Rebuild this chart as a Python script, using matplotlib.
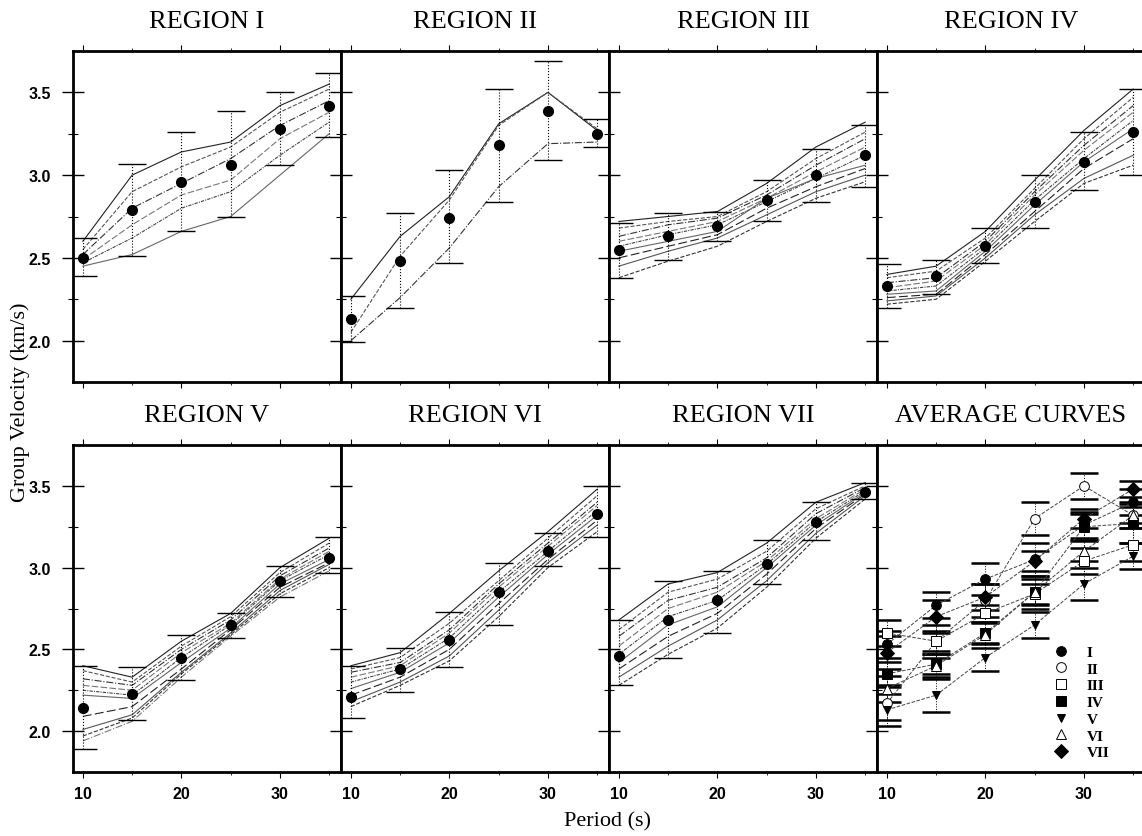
import numpy as np
import matplotlib.pyplot as plt

plt.rcParams['font.family'] = ['Liberation Serif', 'DejaVu Serif']

periods = [10, 15, 20, 25, 30, 35]

# mean curves with error limits
mean_I = [2.50, 2.79, 2.96, 3.06, 3.28, 3.42]
lo_I = [2.39, 2.51, 2.66, 2.75, 3.06, 3.23]
hi_I = [2.62, 3.07, 3.26, 3.39, 3.50, 3.62]

mean_II = [2.13, 2.48, 2.74, 3.18, 3.39, 3.25]
lo_II = [1.99, 2.20, 2.47, 2.84, 3.09, 3.17]
hi_II = [2.27, 2.77, 3.03, 3.52, 3.69, 3.34]

mean_III = [2.55, 2.63, 2.69, 2.85, 3.00, 3.12]
lo_III = [2.38, 2.49, 2.60, 2.72, 2.84, 2.93]
hi_III = [2.71, 2.77, 2.78, 2.97, 3.16, 3.30]

mean_IV = [2.33, 2.39, 2.57, 2.84, 3.08, 3.26]
lo_IV = [2.20, 2.28, 2.47, 2.68, 2.91, 3.00]
hi_IV = [2.46, 2.49, 2.68, 3.00, 3.26, 3.52]

mean_V = [2.14, 2.23, 2.45, 2.65, 2.92, 3.06]
lo_V = [1.89, 2.07, 2.31, 2.57, 2.82, 2.97]
hi_V = [2.40, 2.39, 2.59, 2.72, 3.01, 3.19]

mean_VI = [2.21, 2.38, 2.56, 2.85, 3.10, 3.33]
lo_VI = [2.08, 2.24, 2.39, 2.65, 3.01, 3.19]
hi_VI = [2.40, 2.51, 2.73, 3.03, 3.21, 3.50]

mean_VII = [2.46, 2.68, 2.80, 3.02, 3.28, 3.46]
lo_VII = [2.28, 2.45, 2.60, 2.90, 3.17, 3.42]
hi_VII = [2.68, 2.92, 2.98, 3.17, 3.40, 3.52]

# individual dispersion curves per region
curves_I = [
    [2.60, 3.00, 3.14, 3.20, 3.42, 3.55],
    [2.55, 2.90, 3.05, 3.17, 3.38, 3.52],
    [2.52, 2.80, 2.95, 3.10, 3.30, 3.45],
    [2.49, 2.70, 2.88, 2.97, 3.22, 3.38],
    [2.47, 2.62, 2.80, 2.90, 3.12, 3.32],
    [2.45, 2.52, 2.66, 2.75, 3.00, 3.25],
]
curves_II = [
    [2.25, 2.63, 2.87, 3.31, 3.50, 3.27],
    [2.05, 2.51, 2.85, 3.30, 3.50, 3.28],
    [2.00, 2.26, 2.56, 2.93, 3.19, 3.20],
]
curves_III = [
    [2.72, 2.75, 2.78, 2.95, 3.17, 3.32],
    [2.68, 2.72, 2.75, 2.90, 3.10, 3.26],
    [2.63, 2.70, 2.74, 2.88, 3.06, 3.22],
    [2.60, 2.66, 2.72, 2.86, 3.02, 3.17],
    [2.57, 2.64, 2.70, 2.84, 2.98, 3.12],
    [2.54, 2.60, 2.66, 2.86, 2.98, 3.06],
    [2.50, 2.57, 2.64, 2.80, 2.93, 3.04],
    [2.45, 2.54, 2.62, 2.76, 2.90, 3.00],
    [2.38, 2.48, 2.57, 2.72, 2.86, 2.96],
]
curves_IV = [
    [2.40, 2.45, 2.66, 2.97, 3.27, 3.52],
    [2.38, 2.42, 2.62, 2.92, 3.22, 3.47],
    [2.35, 2.38, 2.60, 2.90, 3.18, 3.42],
    [2.32, 2.36, 2.58, 2.88, 3.15, 3.38],
    [2.30, 2.33, 2.56, 2.85, 3.10, 3.33],
    [2.28, 2.30, 2.54, 2.82, 3.08, 3.28],
    [2.26, 2.28, 2.52, 2.78, 3.04, 3.22],
    [2.24, 2.27, 2.50, 2.76, 2.98, 3.12],
    [2.22, 2.25, 2.48, 2.72, 2.95, 3.06],
]
curves_V = [
    [2.40, 2.33, 2.55, 2.72, 3.00, 3.18],
    [2.37, 2.30, 2.52, 2.70, 2.97, 3.15],
    [2.32, 2.28, 2.50, 2.68, 2.95, 3.12],
    [2.28, 2.25, 2.48, 2.66, 2.93, 3.10],
    [2.25, 2.22, 2.45, 2.65, 2.92, 3.08],
    [2.22, 2.20, 2.42, 2.63, 2.90, 3.05],
    [2.09, 2.15, 2.38, 2.62, 2.88, 3.03],
    [2.01, 2.10, 2.36, 2.60, 2.86, 3.02],
    [1.97, 2.08, 2.35, 2.59, 2.84, 3.00],
    [1.94, 2.06, 2.33, 2.58, 2.82, 2.98],
]
curves_VI = [
    [2.40, 2.48, 2.72, 2.98, 3.22, 3.48],
    [2.38, 2.45, 2.66, 2.92, 3.18, 3.44],
    [2.36, 2.42, 2.62, 2.90, 3.15, 3.40],
    [2.33, 2.40, 2.60, 2.88, 3.13, 3.38],
    [2.30, 2.38, 2.57, 2.85, 3.10, 3.35],
    [2.26, 2.36, 2.54, 2.82, 3.08, 3.32],
    [2.22, 2.33, 2.50, 2.78, 3.05, 3.29],
    [2.18, 2.30, 2.46, 2.74, 3.03, 3.26],
    [2.15, 2.28, 2.43, 2.70, 3.00, 3.22],
]
curves_VII = [
    [2.68, 2.90, 2.97, 3.15, 3.40, 3.52],
    [2.62, 2.85, 2.93, 3.10, 3.36, 3.50],
    [2.58, 2.80, 2.88, 3.06, 3.33, 3.49],
    [2.52, 2.75, 2.85, 3.04, 3.30, 3.48],
    [2.47, 2.70, 2.80, 3.02, 3.28, 3.47],
    [2.42, 2.65, 2.76, 3.00, 3.26, 3.46],
    [2.38, 2.58, 2.72, 2.96, 3.24, 3.45],
    [2.33, 2.52, 2.68, 2.92, 3.21, 3.44],
    [2.28, 2.47, 2.63, 2.88, 3.18, 3.42],
]

# average curves panel, with half-widths of its error bars
avg_I = [2.53, 2.77, 2.93, 3.05, 3.26, 3.40]
avg_II = [2.17, 2.55, 2.80, 3.30, 3.50, 3.32]
avg_III = [2.60, 2.55, 2.72, 2.84, 3.04, 3.14]
avg_IV = [2.35, 2.41, 2.60, 2.85, 3.25, 3.27]
avg_V = [2.13, 2.22, 2.45, 2.65, 2.90, 3.07]
avg_VI = [2.26, 2.40, 2.59, 2.85, 3.10, 3.32]
avg_VII = [2.48, 2.70, 2.82, 3.04, 3.30, 3.48]

err_I = [0.08, 0.08, 0.10, 0.10, 0.08, 0.08]
err_II = [0.10, 0.10, 0.10, 0.10, 0.08, 0.05]
err_III = [0.08, 0.06, 0.05, 0.06, 0.08, 0.10]
err_IV = [0.07, 0.06, 0.06, 0.08, 0.08, 0.12]
err_V = [0.10, 0.10, 0.08, 0.08, 0.10, 0.08]
err_VI = [0.08, 0.07, 0.08, 0.10, 0.06, 0.08]
err_VII = [0.10, 0.10, 0.08, 0.06, 0.06, 0.05]

names = ['I', 'II', 'III', 'IV', 'V', 'VI', 'VII']
titles = ['REGION I', 'REGION II', 'REGION III', 'REGION IV',
          'REGION V', 'REGION VI', 'REGION VII', 'AVERAGE CURVES']
means = [mean_I, mean_II, mean_III, mean_IV, mean_V, mean_VI, mean_VII]
los = [lo_I, lo_II, lo_III, lo_IV, lo_V, lo_VI, lo_VII]
his = [hi_I, hi_II, hi_III, hi_IV, hi_V, hi_VI, hi_VII]
curves = [curves_I, curves_II, curves_III, curves_IV, curves_V, curves_VI, curves_VII]
avgs = [avg_I, avg_II, avg_III, avg_IV, avg_V, avg_VI, avg_VII]
errs = [err_I, err_II, err_III, err_IV, err_V, err_VI, err_VII]
avg_markers = ['o', 'o', 's', 's', 'v', '^', 'D']
avg_fill = ['k', 'white', 'white', 'k', 'k', 'white', 'k']

W, H = 1142, 837
fig = plt.figure(figsize=(W / 100, H / 100), dpi=100)

col_x = [73, 341, 609, 877]
col_w = 268
rows = [(52, 383), (446, 773)]

styles = ['-', '--', '-.', (0, (6, 2)), (0, (3, 1, 1, 1)), '-', (0, (8, 3))]
greys = ['#222222', '#555555', '#333333', '#777777', '#444444', '#666666']


def style_axis(ax, col):
    ax.set_xlim(9.0, 36.2)
    ax.set_ylim(1.75, 3.75)
    ax.set_yticks([2.0, 2.5, 3.0, 3.5])
    ax.set_yticks([2.25, 2.75, 3.25], minor=True)
    ax.set_xticks([10, 20, 30])
    ax.set_xticks([15, 25, 35], minor=True)
    ax.tick_params(axis='y', which='major', direction='inout', length=16, width=1.0,
                   left=True, right=False, pad=8)
    ax.tick_params(axis='y', which='minor', direction='inout', length=7, width=0.8)
    ax.tick_params(axis='x', which='major', direction='out', length=4, width=0.8,
                   top=True, bottom=True, pad=6)
    ax.tick_params(axis='x', which='minor', direction='out', length=2, width=0.6,
                   top=True, bottom=True)
    for lab in ax.get_xticklabels() + ax.get_yticklabels():
        lab.set_fontfamily('Liberation Sans')
        lab.set_fontweight('bold')
        lab.set_fontsize(11.5)
    for s in ax.spines.values():
        s.set_linewidth(2.0)
    if col != 0:
        ax.set_yticklabels([])


axes = []
for i in range(8):
    r, c = divmod(i, 4)
    top, bot = rows[r]
    ax = fig.add_axes([col_x[c] / W, 1 - bot / H, col_w / W, (bot - top) / H])
    axes.append(ax)
    style_axis(ax, c)
    if r == 0:
        ax.set_xticklabels([])
    ax.set_title(titles[i], fontsize=19, pad=17)

for i in range(7):
    ax = axes[i]
    for k, cv in enumerate(curves[i]):
        ax.plot(periods, cv, color=greys[k % len(greys)], lw=0.8,
                linestyle=styles[k % len(styles)], zorder=2)
    m = np.array(means[i])
    yerr = [m - np.array(los[i]), np.array(his[i]) - m]
    eb = ax.errorbar(periods, m, yerr=yerr, fmt='none', ecolor='k',
                     elinewidth=0.8, capsize=10, capthick=1.0, zorder=3)
    eb[2][0].set_linestyle(':')
    ax.plot(periods, m, 'o', color='k', markersize=7, zorder=4)

ax = axes[7]
handles = []
for i in range(7):
    eb = ax.errorbar(periods, avgs[i], yerr=errs[i], fmt='none', ecolor='k',
                     elinewidth=0.7, capsize=10, capthick=1.8, zorder=2)
    eb[2][0].set_linestyle(':')
    ax.plot(periods, avgs[i], color='#444444', lw=0.7, linestyle='--', zorder=3)
    h, = ax.plot(periods, avgs[i], linestyle='none', marker=avg_markers[i], color='k',
                 markerfacecolor=avg_fill[i], markeredgewidth=0.7,
                 markersize=7 if avg_markers[i] != 'v' else 6, zorder=4)
    handles.append(h)

leg = ax.legend(handles, names, loc='lower right', frameon=False, fontsize=11,
                handlelength=1.0, handletextpad=1.2, labelspacing=0.2,
                borderaxespad=0.0, bbox_to_anchor=(0.89, 0.02))
for t in leg.get_texts():
    t.set_fontweight('bold')

fig.text(20 / W, 1 - 402 / H, 'Group Velocity (km/s)', rotation=90,
         ha='center', va='center', fontsize=16)
fig.text(608 / W, 1 - 822 / H, 'Period (s)', ha='center', va='center', fontsize=16)

fig.savefig('out.png', dpi=100)
